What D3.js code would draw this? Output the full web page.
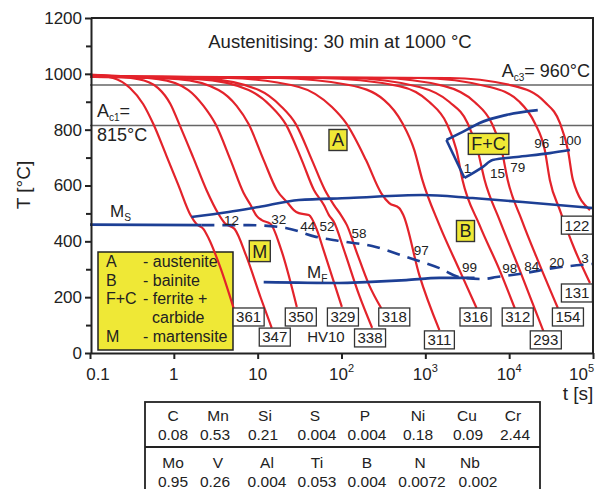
<!DOCTYPE html>
<html><head><meta charset="utf-8">
<script src="https://cdn.jsdelivr.net/npm/d3@7"></script>
<style>body{margin:0;background:#fff}svg{display:block}</style>
</head><body>
<svg id="c" width="597" height="489"></svg>
<script>
// ---------------- DATA ----------------
const xTicks = [0.1, 1, 10, 100, 1000, 10000, 100000];
const xTickBase = ["0.1", "1", "10", "10", "10", "10", "10"];
const xTickExp = ["", "", "", "2", "3", "4", "5"];
const yMajor = [0, 200, 400, 600, 800, 1000, 1200];
const yMinor = [100, 300, 500, 700, 900, 1100];
const acTemps = [960, 815];

// cooling curves [t (s), T (°C)]
const coolingCurves = [
  [[0.1,996],[0.188,985],[0.30,949],[0.43,892],[0.57,820],[0.81,709],[1.13,602],[1.58,494],[1.86,462],[2.26,444],[2.59,412],[3.61,304],[5.16,161]],
  [[0.1,996],[0.376,981],[0.65,949],[0.91,892],[1.16,820],[1.71,699],[2.45,584],[3.41,498],[4.03,466],[5.31,444],[7.38,344],[10.9,197],[14.7,90]],
  [[0.1,996],[0.65,981],[1.49,942],[2.26,885],[3.14,820],[4.75,691],[6.8,573],[8.24,530],[9.73,491],[11.2,476],[14.3,462],[18.8,376],[29.3,165]],
  [[0.1,992],[1.13,981],[3.41,942],[5.61,885],[7.8,820],[11.8,691],[16.9,584],[22.9,537],[27,512],[31,501],[40.8,494],[50.9,441],[60,376],[101,165]],
  [[0.1,992],[1.96,981],[7.8,942],[14.3,885],[21.6,820],[33.6,691],[46.9,584],[61.7,530],[70.8,494],[81.3,469],[107,369],[162,208],[232,90]],
  [[0.1,992],[2.59,981],[10.3,942],[18.8,885],[28.5,820],[44.4,691],[63.4,584],[81.3,530],[98.6,494],[116,458],[153,358],[213,244],[297,161]],
  [[0.1,992],[4.5,985],[31,953],[76.9,881],[113,824],[196,691],[297,573],[371,537],[488,519],[546,494],[848,279],[1472,82]],
  [[0.1,992],[17.8,985],[123,960],[323,906],[531,824],[739,727],[921,620],[1472,458],[2555,297],[4083,161]],
  [[0.1,989],[53.8,985],[488,956],[1117,899],[1784,824],[2350,727],[2775,620],[4437,458],[7690,297],[11640,161]],
  [[0.1,989],[123,985],[848,953],[1938,899],[3186,824],[4198,727],[5094,620],[7690,476],[13360,297],[25880,75]],
  [[0.1,989],[281,985],[1690,956],[3865,899],[6170,824],[8130,727],[9600,620],[14130,476],[23180,315],[38100,161]],
  [[0.1,989],[848,985],[5840,953],[13360,899],[20200,824],[26600,727],[30550,620],[40270,512],[60850,369],[92000,251]],
  [[0.1,989],[1938,985],[11640,956],[26600,899],[40270,824],[50230,727],[57600,620],[92000,512]]
];
const hardness = [361, 347, 350, 329, 338, 318, 311, 316, 312, 293, 154, 131, 122];
const hardnessAt = [[7.8,129],[16,57],[32.7,129],[104,129],[219,54],[426,129],[1472,47],[3970,129],[12650,129],[27350,47],[50230,129],[64300,215],[64300,458]];

// transformation lines
const msLine = [[0.1,460],[2.13,458]];
const bsLine = [[1.62,487],[4.5,505],[10.3,523],[31,548],[123,555],[921,566],[3656,555],[14520,541],[100000,519]];
const bfLine = [[2.13,458],[7.8,458],[21.6,448],[49.5,416],[113,398],[232,383],[592,344],[1472,304],[2555,272],[4820,265],[7080,272],[16220,287],[33200,304],[100000,319]];
const mfLine = [[11.8,254],[93.3,251],[196,254],[592,261],[1472,269],[3865,269]];
const fcEdge = [[2931,627],[1784,763]];
const fsLine = [[1784,763],[3098,799],[4437,824],[9330,853],[21930,870]];
const ffLine = [[2931,627],[4820,666],[6340,691],[12300,702],[30550,716],[53100,727]];

const bainitePct = ["12","32","44","52","58","97","99","98","84","20","3"];
const bainitePctAt = [[4.89,476],[17.8,480],[39.7,455],[67,455],[162,430],[895,369],[3365,308],[10140,304],[18580,312],[37070,326],[80200,340]];
const ferritePct = ["1","15","79","96","100"];
const ferritePctAt = [[3186,663],[7280,645],[12650,666],[24490,752],[53100,763]];

const phaseLabels = ["A", "B", "M", "F+C"];
const phaseAt = [[90.8,763],[3013,437],[10.6,365],[5680,749]];

const legendKeys = ["A", "B", "F+C", "", "M"];
const legendTexts = ["- austenite", "- bainite", "- ferrite +", "carbide", "- martensite"];

const elements1 = ["C","Mn","Si","S","P","Ni","Cu","Cr"];
const values1 = ["0.08","0.53","0.21","0.004","0.004","0.18","0.09","2.44"];
const elements2 = ["Mo","V","Al","Ti","B","N","Nb"];
const values2 = ["0.95","0.26","0.004","0.053","0.004","0.0072","0.002"];

// ---------------- DRAW ----------------
const FONT = "'Liberation Sans', Arial, Helvetica, sans-serif";
const RED = "#e3232b", BLUE = "#1d3f95", YEL = "#efe836", DARK = "#222";
const svg = d3.select("#c").style("font-family", FONT);
const X = d3.scaleLog().domain([0.1, 1e5]).range([90, 593]);
const Y = d3.scaleLinear().domain([0, 1200]).range([353, 18]);

// Ac lines
svg.append("g").selectAll("line").data(acTemps).join("line")
  .attr("x1", X(0.1)).attr("x2", X(1e5)).attr("y1", d => Y(d)).attr("y2", d => Y(d))
  .attr("stroke", "#666").attr("stroke-width", 1.5);

// legend box (under curves)
const lg = svg.append("g");
lg.append("rect").attr("x", 98).attr("y", 252).attr("width", 135).attr("height", 98)
  .attr("fill", YEL).attr("stroke", DARK).attr("stroke-width", 1.5);
legendKeys.forEach((k, i) => {
  lg.append("text").attr("x", 106).attr("y", 267 + i * 18.7).attr("font-size", 16).attr("fill", "#222").text(k);
  lg.append("text").attr("x", i === 3 ? 152 : 143).attr("y", 267 + i * 18.7).attr("font-size", 16).attr("fill", "#222").text(legendTexts[i]);
});

// red cooling curves
const lineM = d3.line().x(d => X(d[0])).y(d => Y(d[1])).curve(d3.curveMonotoneX);
const lineL = d3.line().x(d => X(d[0])).y(d => Y(d[1]));
svg.append("g").selectAll("path").data(coolingCurves).join("path")
  .attr("d", lineM).attr("fill", "none").attr("stroke", RED).attr("stroke-width", 2.2);

// blue lines
const bl = svg.append("g").attr("fill", "none").attr("stroke", BLUE).attr("stroke-width", 2.6);
bl.append("path").attr("d", lineM(msLine));
bl.append("path").attr("d", lineM(bsLine));
bl.append("path").attr("d", lineM(mfLine));
bl.append("path").attr("d", lineM(bfLine)).attr("stroke-dasharray", "13,8");
bl.append("path").attr("d", lineL(fcEdge));
bl.append("path").attr("d", lineM(fsLine));
bl.append("path").attr("d", lineM(ffLine));

// percentage labels
svg.append("g").selectAll("text").data(bainitePct.concat(ferritePct)).join("text")
  .attr("x", (d, i) => X(bainitePctAt.concat(ferritePctAt)[i][0]))
  .attr("y", (d, i) => Y(bainitePctAt.concat(ferritePctAt)[i][1]))
  .attr("dy", "0.35em").attr("text-anchor", "middle").attr("font-size", 13.5).attr("fill", "#222").text(d => d);

// hardness boxes
const hb = svg.append("g");
hardness.forEach((h, i) => {
  const g = hb.append("g");
  const t = g.append("text").attr("x", X(hardnessAt[i][0])).attr("y", Y(hardnessAt[i][1]))
    .attr("dy", "0.36em").attr("text-anchor", "middle").attr("font-size", 15).attr("fill", "#222").text(h);
  const b = t.node().getBBox();
  g.insert("rect", "text").attr("x", b.x - 3).attr("y", Y(hardnessAt[i][1]) - 9)
    .attr("width", b.width + 6).attr("height", 18).attr("fill", "#fff").attr("stroke", "#333").attr("stroke-width", 1.3);
});
svg.append("text").attr("x", X(65.2)).attr("y", Y(57)).attr("dy", "0.36em").attr("text-anchor", "middle")
  .attr("font-size", 15).attr("fill", "#222").text("HV10");

// phase labels
phaseLabels.forEach((p, i) => {
  const g = svg.append("g");
  const t = g.append("text").attr("x", X(phaseAt[i][0])).attr("y", Y(phaseAt[i][1])).attr("dy", "0.36em")
    .attr("text-anchor", "middle").attr("font-size", 18).attr("fill", "#222").text(p);
  const b = t.node().getBBox();
  g.insert("rect", "text").attr("x", b.x - 3).attr("y", Y(phaseAt[i][1]) - 10.5)
    .attr("width", b.width + 6).attr("height", 21).attr("fill", YEL).attr("stroke", "#333").attr("stroke-width", 1.4);
});

// Ms, Mf labels
function subLabel(x, y, main, sub, fs) {
  const t = svg.append("text").attr("x", x).attr("y", y).attr("font-size", fs).attr("fill", "#222");
  t.append("tspan").text(main);
  t.append("tspan").attr("font-size", fs * 0.6).attr("dy", 4).text(sub);
  return t;
}
subLabel(110, 217, "M", "S", 17);
subLabel(307, 278, "M", "F", 17);

// Ac labels
const a1 = svg.append("text").attr("x", 97).attr("y", 117).attr("font-size", 18).attr("fill", "#222");
a1.append("tspan").text("A");
a1.append("tspan").attr("font-size", 10).attr("dy", 4).text("c1");
a1.append("tspan").attr("dy", -4).text("=");
svg.append("text").attr("x", 97).attr("y", 141).attr("font-size", 18).attr("fill", "#222").text("815°C");
const a3 = svg.append("text").attr("x", 590).attr("y", 77).attr("text-anchor", "end").attr("font-size", 18).attr("fill", "#222");
a3.append("tspan").text("A");
a3.append("tspan").attr("font-size", 10).attr("dy", 4).text("c3");
a3.append("tspan").attr("dy", -4).text("= 960°C");

// title
svg.append("text").attr("x", 340).attr("y", 48).attr("text-anchor", "middle").attr("font-size", 18.5)
  .attr("fill", "#222").text("Austenitising: 30 min at 1000 °C");

// frame
svg.append("path").attr("d", `M91,18H593V353`).attr("fill", "none").attr("stroke", DARK).attr("stroke-width", 2);

// axes
const xa = svg.append("g").attr("transform", "translate(0,353)")
  .call(d3.axisBottom(X).tickValues(xTicks).tickSize(6).tickSizeOuter(0).tickFormat(""));
const ya = svg.append("g").attr("transform", "translate(91,0)")
  .call(d3.axisLeft(Y).tickValues(yMajor).tickSize(6).tickSizeOuter(0).tickPadding(3).tickFormat(d3.format("d")));
const ym = svg.append("g").attr("transform", "translate(91,0)")
  .call(d3.axisLeft(Y).tickValues(yMinor).tickSize(5).tickSizeOuter(0).tickFormat(""));
ym.select(".domain").remove();
[xa, ya, ym].forEach(g => {
  g.selectAll("path,line").attr("stroke", DARK).attr("stroke-width", 2);
});
ya.selectAll("text").attr("font-size", 17).attr("font-family", FONT).attr("fill", "#222");

// x tick labels
xTicks.forEach((v, i) => {
  const last = i === xTicks.length - 1;
  const t = svg.append("text").attr("x", last ? 594 : X(v) + (i === 0 ? 8 : 0)).attr("y", 380)
    .attr("text-anchor", last ? "end" : "middle").attr("font-size", 17).attr("fill", "#222");
  t.append("tspan").text(xTickBase[i]);
  if (xTickExp[i]) t.append("tspan").attr("font-size", 11).attr("dy", -8).text(xTickExp[i]);
});

// axis titles
svg.append("text").attr("transform", "translate(30,185) rotate(-90)").attr("text-anchor", "middle")
  .attr("font-size", 19).attr("fill", "#222").text("T [°C]");
svg.append("text").attr("x", 578).attr("y", 400).attr("text-anchor", "middle")
  .attr("font-size", 19).attr("fill", "#222").text("t [s]");

// composition table
const tb = svg.append("g");
tb.append("rect").attr("x", 145).attr("y", 402).attr("width", 395).attr("height", 100)
  .attr("fill", "none").attr("stroke", DARK).attr("stroke-width", 1.8);
tb.append("line").attr("x1", 145).attr("x2", 540).attr("y1", 447).attr("y2", 447).attr("stroke", DARK).attr("stroke-width", 1.8);
const c1n = [173, 218, 265, 315, 365, 418, 467, 513], c1v = [173, 215, 263, 317, 367, 418, 468, 515];
const c2n = [173, 218, 267, 317, 367, 420, 470], c2v = [173, 215, 267, 317, 367, 422, 478];
function row(arr, xs, y) {
  arr.forEach((s, i) => tb.append("text").attr("x", xs[i]).attr("y", y).attr("text-anchor", "middle")
    .attr("font-size", 15.5).attr("fill", "#222").text(s));
}
row(elements1, c1n, 421); row(values1, c1v, 440);
row(elements2, c2n, 468); row(values2, c2v, 487);
</script>
</body></html>
